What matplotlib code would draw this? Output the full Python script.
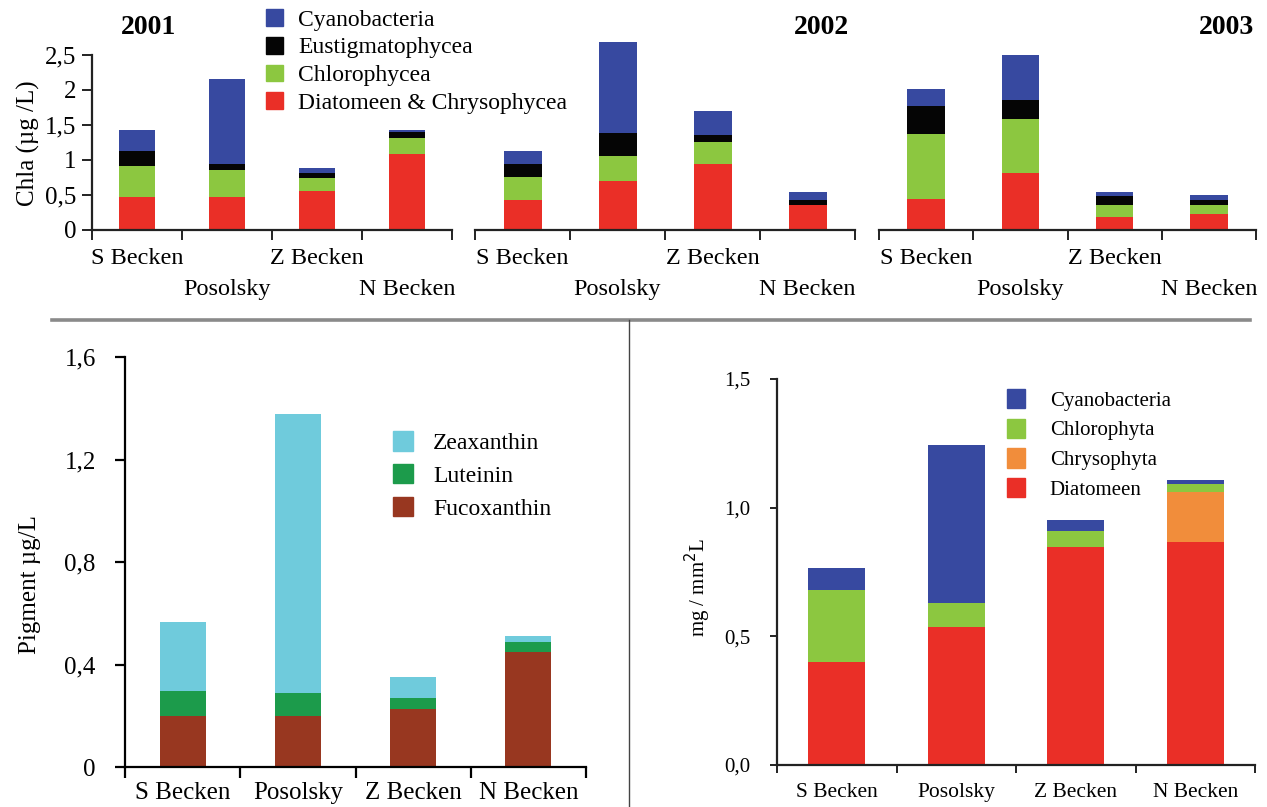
import matplotlib
matplotlib.use("Agg")
import matplotlib.pyplot as plt
from matplotlib.patches import Patch
from matplotlib.lines import Line2D
import numpy as np

plt.rcParams["font.family"] = ["Liberation Serif", "DejaVu Serif"]
plt.rcParams["axes.linewidth"] = 1.6

# ---- data ---------------------------------------------------------------
sites = ["S Becken", "Posolsky", "Z Becken", "N Becken"]
years = ["2001", "2002", "2003"]

# Chla per algal group (µg/L), one row per year
chla_diatom_chryso = [[0.475, 0.475, 0.56, 1.09],
                      [0.43, 0.70, 0.94, 0.36],
                      [0.44, 0.82, 0.18, 0.23]]
chla_chlorophycea = [[0.445, 0.385, 0.18, 0.23],
                     [0.33, 0.36, 0.32, 0.0],
                     [0.93, 0.76, 0.18, 0.13]]
chla_eustigmato = [[0.21, 0.09, 0.08, 0.08],
                   [0.19, 0.32, 0.10, 0.07],
                   [0.40, 0.28, 0.13, 0.07]]
chla_cyano = [[0.30, 1.20, 0.07, 0.03],
              [0.18, 1.30, 0.34, 0.11],
              [0.24, 0.64, 0.05, 0.07]]

# marker pigments (µg/L)
fucoxanthin = [0.198, 0.198, 0.225, 0.447]
luteinin = [0.100, 0.090, 0.045, 0.040]
zeaxanthin = [0.267, 1.090, 0.083, 0.023]

# biomass (mg / mm² L)
bio_diatomeen = [0.402, 0.538, 0.847, 0.867]
bio_chrysophyta = [0.0, 0.0, 0.0, 0.193]
bio_chlorophyta = [0.279, 0.091, 0.061, 0.033]
bio_cyano = [0.084, 0.613, 0.045, 0.013]

# ---- colours --------------------------------------------------------------
C_BLUE = "#3749a0"
C_BLACK = "#050505"
C_LGREEN = "#8cc740"
C_RED = "#ea2f27"
C_CYAN = "#6fcbdc"
C_DGREEN = "#1c9b4b"
C_BROWN = "#983720"
C_ORANGE = "#f18d3b"
AX_COL = "#222222"

W, H = 1267, 807
fig = plt.figure(figsize=(W / 100, H / 100), dpi=100)
fig.patch.set_facecolor("white")


def rect(x0, y0, x1, y1):
    return [x0 / W, 1 - y1 / H, (x1 - x0) / W, (y1 - y0) / H]


def stack(ax, layers, colors, width):
    x = np.arange(len(sites))
    bottom = np.zeros(len(sites))
    out = []
    for vals, c in zip(layers, colors):
        vals = np.asarray(vals, dtype=float)
        b = ax.bar(x, vals, width=width, bottom=bottom, color=c,
                   linewidth=0, clip_on=False, zorder=2)
        bottom += vals
        out.append(b)
    return out


# ---- top row: Chla per year ---------------------------------------------
top_boxes = [(92, 55, 452, 230), (475, 55, 855, 230), (879, 55, 1256, 230)]
title_pos = [(121, "left"), (849, "right"), (1254, "right")]
stagger = ["S Becken", "\nPosolsky", "Z Becken", "\nN Becken"]

for i, box in enumerate(top_boxes):
    ax = fig.add_axes(rect(*box))
    stack(ax, [chla_diatom_chryso[i], chla_chlorophycea[i],
               chla_eustigmato[i], chla_cyano[i]],
          [C_RED, C_LGREEN, C_BLACK, C_BLUE], 0.4)
    ax.set_xlim(-0.5, 3.5)
    ax.set_ylim(0, 2.5)
    for s in ["top", "right"]:
        ax.spines[s].set_visible(False)
    ax.spines["bottom"].set_color(AX_COL)
    ax.set_xticks(np.arange(-0.5, 4.0, 1.0))
    ax.set_xticklabels([])
    ax.tick_params(axis="x", which="major", direction="out", length=7,
                   width=1.4, color=AX_COL)
    ax.set_xticks(np.arange(4), minor=True)
    ax.set_xticklabels(stagger, minor=True, fontsize=17.5, linespacing=1.6)
    ax.tick_params(axis="x", which="minor", length=0, pad=13)
    if i == 0:
        ax.spines["left"].set_color(AX_COL)
        ax.set_yticks([0, 0.5, 1, 1.5, 2, 2.5])
        ax.set_yticklabels(["0", "0,5", "1", "1,5", "2", "2,5"], fontsize=18)
        ax.tick_params(axis="y", direction="out", length=7, width=1.4,
                       color=AX_COL, pad=4)
    else:
        ax.spines["left"].set_visible(False)
        ax.set_yticks([])
    ax.set_facecolor("none")
    fig.text(title_pos[i][0] / W, 1 - 28 / H, years[i], fontsize=20,
             fontweight="bold", ha=title_pos[i][1], va="center")

fig.text(28 / W, 1 - 143 / H, "Chla (µg /L)", rotation=90, fontsize=18,
         ha="center", va="center")

top_handles = [Patch(color=C_BLUE), Patch(color=C_BLACK),
               Patch(color=C_LGREEN), Patch(color=C_RED)]
top_labels = ["Cyanobacteria", "Eustigmatophycea", "Chlorophycea",
              "Diatomeen & Chrysophycea"]
fig.legend(top_handles, top_labels, loc="upper left",
           bbox_to_anchor=(266 / W, 1 - 9 / H), frameon=False, fontsize=17,
           handlelength=0.72, handleheight=0.72, handletextpad=0.65,
           labelspacing=0.26, borderpad=0, borderaxespad=0)

# ---- separators -----------------------------------------------------------
fig.add_artist(Line2D([52 / W, 1250 / W], [1 - 320 / H, 1 - 320 / H],
                      color="#8a8a8a", lw=2.6, transform=fig.transFigure))
fig.add_artist(Line2D([629 / W, 629 / W], [1 - 320 / H, 0],
                      color="#444444", lw=1.0, transform=fig.transFigure))

# ---- bottom left: pigments --------------------------------------------------
ax = fig.add_axes(rect(125, 357, 586, 767))
stack(ax, [fucoxanthin, luteinin, zeaxanthin], [C_BROWN, C_DGREEN, C_CYAN], 0.4)
ax.set_xlim(-0.5, 3.5)
ax.set_ylim(0, 1.6)
for s in ["top", "right"]:
    ax.spines[s].set_visible(False)
ax.spines["left"].set_color("black")
ax.spines["bottom"].set_color("black")
ax.set_xticks(np.arange(-0.5, 4.0, 1.0))
ax.set_xticklabels([])
ax.tick_params(axis="x", which="major", direction="out", length=8, width=1.6)
ax.set_xticks(np.arange(4), minor=True)
ax.set_xticklabels(sites, minor=True, fontsize=18)
ax.tick_params(axis="x", which="minor", length=0, pad=11)
ax.set_yticks([0, 0.4, 0.8, 1.2, 1.6])
ax.set_yticklabels(["0", "0,4", "0,8", "1,2", "1,6"], fontsize=18)
ax.tick_params(axis="y", direction="out", length=7, width=1.6, pad=14)
ax.set_facecolor("none")
fig.text(30 / W, 1 - 585 / H, "Pigment µg/L", rotation=90, fontsize=18,
         ha="center", va="center")
pig_handles = [Patch(color=C_CYAN), Patch(color=C_DGREEN), Patch(color=C_BROWN)]
fig.legend(pig_handles, ["Zeaxanthin", "Luteinin", "Fucoxanthin"],
           loc="upper left", bbox_to_anchor=(393 / W, 1 - 431 / H),
           frameon=False, fontsize=17, handlelength=0.85, handleheight=0.9,
           handletextpad=0.85, labelspacing=0.42, borderpad=0, borderaxespad=0)

# ---- bottom right: biomass --------------------------------------------------
ax = fig.add_axes(rect(777, 379, 1255, 765))
stack(ax, [bio_diatomeen, bio_chrysophyta, bio_chlorophyta, bio_cyano],
      [C_RED, C_ORANGE, C_LGREEN, C_BLUE], 0.48)
ax.set_xlim(-0.5, 3.5)
ax.set_ylim(0, 1.5)
for s in ["top", "right"]:
    ax.spines[s].set_visible(False)
ax.spines["left"].set_color(AX_COL)
ax.spines["bottom"].set_color(AX_COL)
ax.set_xticks(np.arange(-0.5, 4.0, 1.0))
ax.set_xticklabels([])
ax.tick_params(axis="x", which="major", direction="out", length=6, width=1.4,
               color=AX_COL)
ax.set_xticks(np.arange(4), minor=True)
ax.set_xticklabels(sites, minor=True, fontsize=15.5)
ax.tick_params(axis="x", which="minor", length=0, pad=13)
ax.set_yticks([0, 0.5, 1.0, 1.5])
ax.set_yticklabels(["0,0", "0,5", "1,0", "1,5"], fontsize=15)
ax.tick_params(axis="y", direction="out", length=5, width=1.4, color=AX_COL,
               pad=14)
ax.set_facecolor("none")
fig.text(698 / W, 1 - 588 / H, "mg / mm$^{2}$L", rotation=90, fontsize=15,
         ha="center", va="center")
bio_handles = [Patch(color=C_BLUE), Patch(color=C_LGREEN),
               Patch(color=C_ORANGE), Patch(color=C_RED)]
fig.legend(bio_handles, ["Cyanobacteria", "Chlorophyta", "Chrysophyta",
                         "Diatomeen"],
           loc="upper left", bbox_to_anchor=(1007 / W, 1 - 389 / H),
           frameon=False, fontsize=15, handlelength=0.85, handleheight=1.05,
           handletextpad=1.2, labelspacing=0.38, borderpad=0, borderaxespad=0)

fig.savefig("out.png", dpi=100, facecolor="white")
